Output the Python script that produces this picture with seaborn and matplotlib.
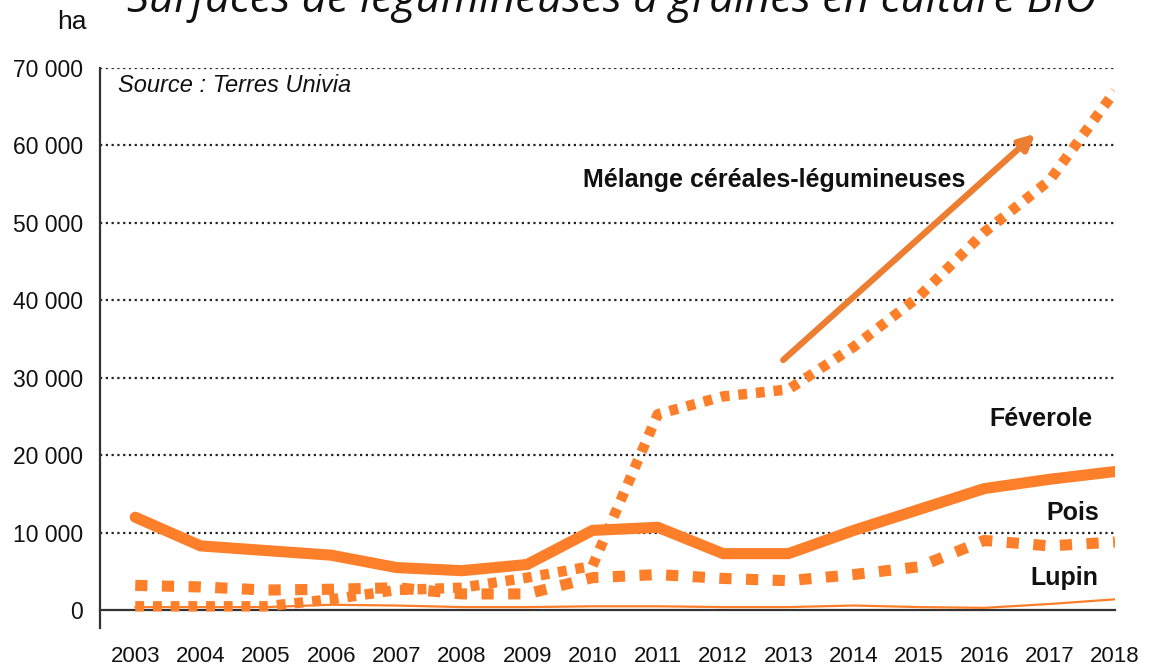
import matplotlib
matplotlib.use("Agg")
import matplotlib.pyplot as plt
import seaborn as sns
import pandas as pd
import numpy as np

years = list(range(2003, 2019))
feverole = [12000, 8300, 7700, 7100, 5500, 5100, 5900, 10300, 10700, 7300, 7300, 10300, 13000, 15700, 16900, 17900]
pois = [3200, 3000, 2600, 2700, 2900, 2100, 2100, 4200, 4600, 4100, 3800, 4600, 5600, 9000, 8300, 8800]
melange = [500, 500, 500, 1400, 2600, 2900, 4200, 5700, 25300, 27600, 28500, 34000, 40500, 48800, 55500, 67000]
lupin = [400, 400, 400, 700, 600, 400, 400, 500, 500, 400, 400, 600, 400, 300, 800, 1400]
yticks = [0, 10000, 20000, 30000, 40000, 50000, 60000, 70000]
ytick_labels = ["0", "10 000", "20 000", "30 000", "40 000", "50 000", "60 000", "70 000"]

sns.set_style("white")
plt.rcParams['font.family'] = ['Liberation Sans', 'DejaVu Sans']

df = pd.DataFrame({"year": years, "Féverole": feverole, "Pois": pois,
                   "Mélange": melange, "Lupin": lupin})

fig = plt.figure(figsize=(11.68, 6.70), dpi=100)
ax = fig.add_axes([0.0856, 0.0627, 0.8690, 0.8358])

orange = "#FD7F2A"
sns.lineplot(data=df, x="year", y="Lupin", ax=ax, color=orange, linewidth=1.6, zorder=3)
l1 = sns.lineplot(data=df, x="year", y="Mélange", ax=ax, color=orange, linewidth=7.5, zorder=4).lines[-1]
l1.set_dashes((0.85, 0.85))
l1.set_dash_capstyle("butt")
l2 = sns.lineplot(data=df, x="year", y="Pois", ax=ax, color=orange, linewidth=8, zorder=4).lines[-1]
l2.set_dashes((1.1, 1.3))
l2.set_dash_capstyle("butt")
l3 = sns.lineplot(data=df, x="year", y="Féverole", ax=ax, color=orange, linewidth=8, zorder=5).lines[-1]
l3.set_solid_capstyle("round")
l3.set_solid_joinstyle("miter")

ax.set_xlim(2002.46, 2018.0)
ax.set_ylim(-2300, 70000)
ax.set_yticks(yticks)
ax.set_yticklabels(ytick_labels)
ax.set_xticks(years)
ax.set_xticklabels([str(y) for y in years])
ax.set_xlabel("")
ax.set_ylabel("")

for y in yticks[1:]:
    ax.axhline(y, color="#222222", linewidth=1.6, linestyle=(0, (1, 1.6)), zorder=1)

ax.spines['top'].set_visible(False)
ax.spines['right'].set_visible(False)
ax.spines['bottom'].set_position(('data', 0))
ax.spines['bottom'].set_color("#333333")
ax.spines['bottom'].set_linewidth(1.6)
ax.spines['left'].set_color("#333333")
ax.spines['left'].set_linewidth(1.6)
ax.tick_params(axis='x', direction='out', length=10, width=1.4, color="#333333",
               labelsize=16, pad=16, labelcolor="#111111")
ax.tick_params(axis='y', length=0, labelsize=16.5, pad=12, labelcolor="#111111")

ax.text(2002.74, 67800, "Source : Terres Univia", fontsize=17, style='italic',
        va='center', ha='left', color="#111111")
lab = dict(fontsize=18, fontweight='bold', color="#111111", va='center')
ax.text(2009.86, 55500, "Mélange céréales-légumineuses", ha='left', **lab)
ax.text(2017.66, 24700, "Féverole", ha='right', **lab)
ax.text(2017.75, 12500, "Pois", ha='right', **lab)
ax.text(2017.75, 4200, "Lupin", ha='right', **lab)

ax.annotate("", xy=(2016.78, 61500), xytext=(2012.92, 32300),
            arrowprops=dict(arrowstyle="-|>,head_length=0.9,head_width=0.45", color="#ED7D31",
                            lw=4.5, shrinkA=0, shrinkB=0), zorder=6)

fig.text(0.0615, 0.967, "ha", fontsize=19, ha='center', va='center', color="#111111")
fig.text(0.524, 0.982, "Surfaces de légumineuses à graines en culture BIO", fontsize=31.5,
         style='italic', family=['Open Sans', 'DejaVu Sans'], ha='center', va='baseline',
         color="#111111")

fig.savefig("out.png", dpi=100)
